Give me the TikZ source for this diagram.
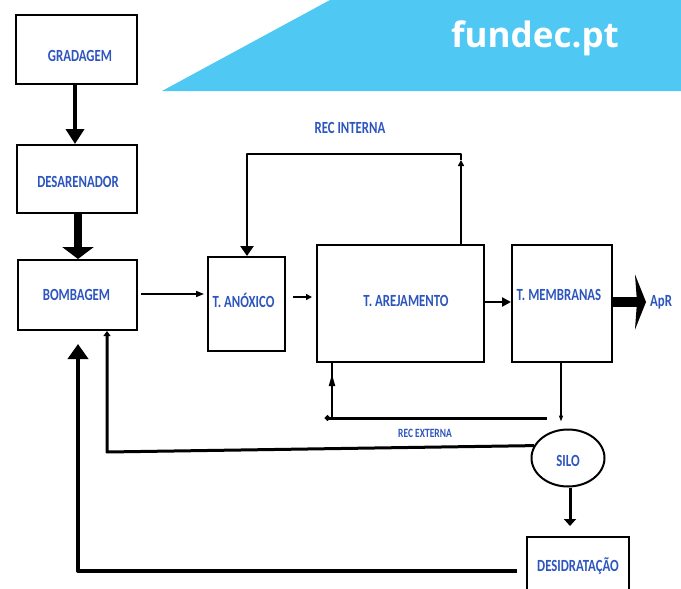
\documentclass[tikz,border=0pt]{standalone}
\usepackage{graphicx}
\usepackage{fontspec}
\usetikzlibrary{arrows.meta,shapes.geometric}
\newfontfamily\carl{Carlito}
\newfontfamily\fundecfont{Open Sans}
\newcommand{\vlab}[1]{\scalebox{1}[1.33]{#1}}
\definecolor{bannerblue}{HTML}{4FC8F4}
\definecolor{txtblue}{HTML}{2D55BE}
\tikzset{
  box/.style={draw=black, line width=2pt, rectangle, inner sep=0pt},
  lbl/.style={font=\carl\bfseries\fontsize{12.8}{13}\selectfont, text=txtblue, inner sep=0pt},
  smlbl/.style={font=\carl\bfseries\fontsize{9.5}{10}\selectfont, text=txtblue, inner sep=0pt},
  conn/.style={draw=black, line width=2.5pt},
}
\begin{document}
\begin{tikzpicture}[x=1pt,y=-1pt]
\useasboundingbox (0,0) rectangle (681,589);
\fill[white] (0,0) rectangle (681,589);
% banner
\fill[bannerblue] (162,91) -- (330,0) -- (681,0) -- (681,91) -- cycle;
\node[font=\fundecfont\bfseries\fontsize{35}{35}\selectfont, text=white, anchor=base west, inner sep=0pt] (fd) at (451,47) {fundec.pt};
% boxes
\node[box, minimum width=121pt, minimum height=69pt, label={[lbl,xshift=3.5pt,yshift=-6.5pt]center:\vlab{GRADAGEM}}] (grad) at (76.5,49.5) {};
\node[box, minimum width=120pt, minimum height=68pt, label={[lbl,xshift=1pt,yshift=-3pt]center:\vlab{DESARENADOR}}] (desa) at (77,179) {};
\node[box, minimum width=119pt, minimum height=70pt, label={[lbl,xshift=-1pt]center:\vlab{BOMBAGEM}}] (bomb) at (77.5,295) {};
\node[box, minimum width=77pt, minimum height=94pt, label={[lbl,xshift=-3pt,yshift=4pt]center:\vlab{T. ANÓXICO}}] (anox) at (246.5,304) {};
\node[box, minimum width=167pt, minimum height=117pt, label={[lbl,xshift=5.5pt,yshift=2.5pt]center:\vlab{T. AREJAMENTO}}] (aer) at (400.5,303.5) {};
\node[box, minimum width=100pt, minimum height=117pt, label={[lbl,xshift=-3pt,yshift=8.5pt]center:\vlab{T. MEMBRANAS}}] (memb) at (562,303.5) {};
\node[box, ellipse, minimum width=73pt, minimum height=57pt, label={[lbl,yshift=-3pt]center:\vlab{SILO}}] (silo) at (568,458) {};
\node[box, minimum width=102pt, minimum height=66pt, label={[lbl,yshift=4pt]center:\vlab{DESIDRATAÇÃO}}] (desid) at (578,570) {};
% text labels
\node[lbl] (ri) at (350,128) {\vlab{REC INTERNA}};
\node[smlbl] (re) at (425,433) {\vlab{REC EXTERNA}};
\node[lbl, anchor=west] (apr) at (650,302) {\vlab{ApR}};
% coordinates
\coordinate (c1) at (75,0);
\coordinate (c2) at (78,0);
\coordinate (riTip) at (461,160);
\coordinate (ri2) at (247,154);
\coordinate (re1) at (547,418);
\coordinate (re2) at (325,418);
\coordinate (re3) at (332,418);
\coordinate (reM) at (332,374);
\coordinate (ms) at (561,0);
\coordinate (sb1) at (107,452);
\coordinate (sd) at (570,0);
\coordinate (db1) at (78,571);
% main flow
\draw[line width=4pt, -{Triangle[width=18pt,length=15pt]}] (grad.south -| c1) -- (desa.north -| c1);
\draw[line width=8pt, -{Triangle[width=31pt,length=12pt]}] (desa.south -| c2) -- (bomb.north -| c2);
\draw[line width=1.5pt, shorten <=3pt, shorten >=3pt, -{Triangle[width=6pt,length=8pt]}] (bomb.east |- 0,294) -- (anox.west |- 0,294);
\draw[line width=2pt, shorten <=7pt, shorten >=4pt, -{Triangle[width=6pt,length=6pt]}] (anox.east |- 0,297) -- (aer.west |- 0,297);
\draw[line width=2.5pt, -{Triangle[width=9pt,length=9pt]}] (aer.east |- 0,302) -- (memb.west |- 0,302);
\draw[line width=10pt, shorten >=4pt, -{Stealth[width=55pt,length=11pt,inset=2pt]}] (memb.east |- 0,302) -- (apr.west);
% REC INTERNA
\draw[conn, -{Triangle[width=6pt,length=6pt]}] (aer.north -| riTip) -- (riTip);
\draw[conn, line join=round, -{Triangle[width=13pt,length=10pt]}] (riTip) |- (ri2) -- (anox.north -| ri2);
% REC EXTERNA
\draw[line width=3pt, -{Circle[length=5pt]}] (re1) -- (re2);
\draw[line width=2pt] (re3) -- (aer.south -| re3);
\draw[line width=2pt, -{Triangle[width=6pt,length=12pt]}] (re3) -- (reM);
% membranas to silo
\draw[line width=1.2pt, shorten >=7pt, -{Triangle[width=4pt,length=6pt]}] (memb.south -| ms) -- (silo.north -| ms);
% silo to bombagem
\draw[line width=3pt, line join=round, -{Triangle[width=7pt,length=5pt]}] (silo.160) -- (sb1) -- (bomb.south -| sb1);
% silo to desidratacao
\draw[line width=3pt, shorten >=10pt, -{Triangle[width=12pt,length=7pt]}] (silo.south -| sd) -- (desid.north -| sd);
% desidratacao to bombagem
\draw[line width=4pt, line join=round, shorten >=13pt, -{Triangle[width=20pt,length=15pt]}] ([xshift=-9pt]desid.west |- db1) -- (db1) -- (bomb.south -| db1);
\end{tikzpicture}
\end{document}
